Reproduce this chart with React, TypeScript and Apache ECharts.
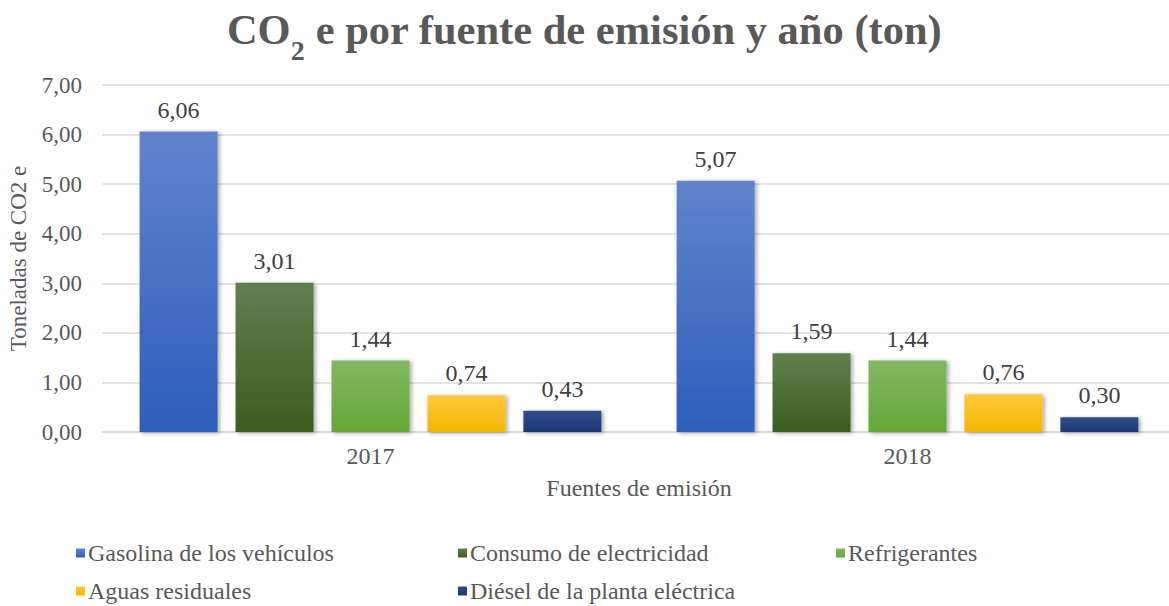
import React, { useEffect, useRef } from "react";
import * as echarts from "echarts";

const years = ["2017", "2018"];
const seriesNames = [
  "Gasolina de los vehículos",
  "Consumo de electricidad",
  "Refrigerantes",
  "Aguas residuales",
  "Diésel de la planta eléctrica",
];
const gasolina = [6.06, 5.07];
const electricidad = [3.01, 1.59];
const refrigerantes = [1.44, 1.44];
const aguas = [0.74, 0.76];
const diesel = [0.43, 0.3];
const seriesValues = [gasolina, electricidad, refrigerantes, aguas, diesel];
const gradients: [string, string][] = [
  ["#6184cc", "#2d5eba"],
  ["#607f50", "#3a5e1f"],
  ["#84b864", "#65a736"],
  ["#ffc93d", "#f1b700"],
  ["#2f4e8b", "#1c3873"],
];
const legendPos: [number, number][] = [
  [76, 541],
  [458, 541],
  [836, 541],
  [76, 579],
  [458, 579],
];

const FONT = "Liberation Serif";
const fmt = (v: number) => v.toFixed(2).replace(".", ",");

export default function App() {
  const ref = useRef<HTMLDivElement>(null);
  useEffect(() => {
    const chart = echarts.init(ref.current!, undefined, { renderer: "svg" });
    const series = seriesNames.map((name, i) => ({
      name,
      type: "bar",
      data: seriesValues[i],
      barWidth: 78,
      barGap: "23%",
      itemStyle: {
        color: new echarts.graphic.LinearGradient(0, 0, 0, 1, [
          { offset: 0, color: gradients[i][0] },
          { offset: 1, color: gradients[i][1] },
        ]),
        shadowBlur: 4,
        shadowColor: "rgba(0,0,0,0.35)",
        shadowOffsetX: 2,
        shadowOffsetY: 1,
      },
      label: {
        show: true,
        position: "top",
        distance: 10,
        formatter: (p: any) => fmt(p.value),
        fontFamily: FONT,
        fontSize: 24,
        color: "#404040",
      },
    }));
    const legends = seriesNames.map((name, i) => ({
      left: legendPos[i][0],
      top: legendPos[i][1],
      data: [name],
      itemWidth: 9,
      itemHeight: 9,
      icon: "rect",
      padding: 0,
      textStyle: { fontFamily: FONT, fontSize: 24, color: "#595959", padding: [0, 0, 0, -2] },
    }));
    chart.setOption({
      animation: false,
      textStyle: { fontFamily: FONT },
      title: {
        text: "{m|CO}{s|2}{m| e por fuente de emisión y año (ton)}",
        left: "center",
        top: -6,
        padding: 0,
        textStyle: {
          rich: {
            m: { fontFamily: FONT, fontSize: 42.5, fontWeight: "bold", color: "#595959", lineHeight: 50, verticalAlign: "middle" },
            s: {
              fontFamily: FONT,
              fontSize: 28,
              fontWeight: "bold",
              color: "#595959",
              verticalAlign: "bottom",
              lineHeight: 70,
            },
          },
        },
      },
      legend: legends,
      grid: { left: 102, width: 1074, top: 85, bottom: 174, outerBoundsMode: "none", containLabel: false },
      xAxis: {
        type: "category",
        data: years,
        name: "Fuentes de emisión",
        nameLocation: "middle",
        nameGap: 44,
        nameTextStyle: { fontFamily: FONT, fontSize: 24, color: "#595959" },
        axisLine: { lineStyle: { color: "#d9d9d9", width: 1.5 } },
        axisTick: { show: false },
        axisLabel: { fontFamily: FONT, fontSize: 24, color: "#595959", margin: 12 },
      },
      yAxis: {
        type: "value",
        min: 0,
        max: 7,
        interval: 1,
        name: "Toneladas de CO2 e",
        nameLocation: "middle",
        nameGap: 72,
        nameTextStyle: { fontFamily: FONT, fontSize: 23, color: "#595959" },
        axisLabel: {
          fontFamily: FONT,
          fontSize: 23,
          color: "#595959",
          margin: 20,
          formatter: (v: number) => fmt(v),
        },
        splitLine: { lineStyle: { color: "#d9d9d9", width: 1.5 } },
      },
      series,
    });
    return () => chart.dispose();
  }, []);
  return (
    <div
      ref={ref}
      style={{ position: "absolute", left: 0, top: 0, width: 1169, height: 606, background: "#fff" }}
    />
  );
}
